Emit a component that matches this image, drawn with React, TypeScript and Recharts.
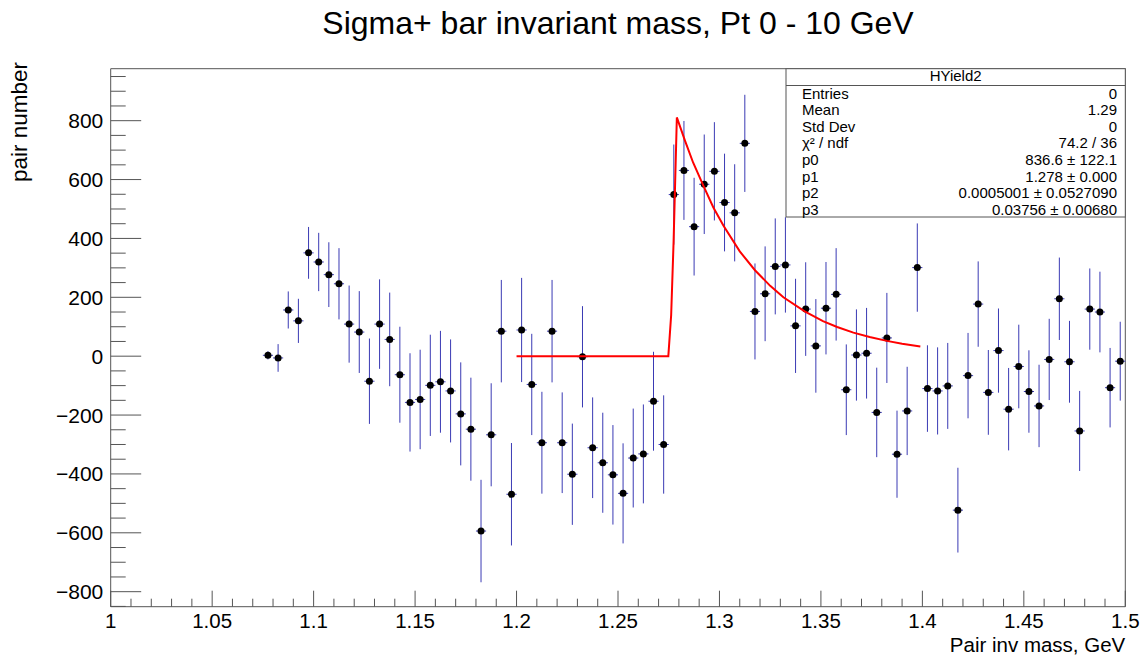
import React from "react";
import { ComposedChart, Scatter, XAxis, YAxis, ErrorBar, ReferenceLine } from "recharts";

// histogram bin centres (GeV), 0.005 wide bins
const binCenters = [
  1.0775, 1.0825, 1.0875, 1.0925, 1.0975,
  1.1025, 1.1075, 1.1125, 1.1175, 1.1225, 1.1275, 1.1325, 1.1375, 1.1425, 1.1475,
  1.1525, 1.1575, 1.1625, 1.1675, 1.1725, 1.1775, 1.1825, 1.1875, 1.1925, 1.1975,
  1.2025, 1.2075, 1.2125, 1.2175, 1.2225, 1.2275, 1.2325, 1.2375, 1.2425, 1.2475,
  1.2525, 1.2575, 1.2625, 1.2675, 1.2725, 1.2775, 1.2825, 1.2875, 1.2925, 1.2975,
  1.3025, 1.3075, 1.3125, 1.3175, 1.3225, 1.3275, 1.3325, 1.3375, 1.3425, 1.3475,
  1.3525, 1.3575, 1.3625, 1.3675, 1.3725, 1.3775, 1.3825, 1.3875, 1.3925, 1.3975,
  1.4025, 1.4075, 1.4125, 1.4175, 1.4225, 1.4275, 1.4325, 1.4375, 1.4425, 1.4475,
  1.4525, 1.4575, 1.4625, 1.4675, 1.4725, 1.4775, 1.4825, 1.4875, 1.4925, 1.4975,
];

const pairCounts = [
  3, -6, 157, 120, 351, 320, 277, 246, 109, 82,
  -85, 109, 57, -63, -157, -147, -99, -87, -118, -196,
  -248, -594, -267, 85, -469, 89, -96, -294, 85, -294,
  -401, -2, -311, -362, -403, -466, -346, -332, -153, -300,
  549, 631, 440, 584, 628, 522, 487, 723, 152, 212,
  305, 310, 103, 160, 35, 163, 210, -114, 4, 10,
  -191, 62, -333, -186, 301, -110, -118, -101, -523, -66,
  177, -123, 19, -180, -35, -120, -169, -11, 195, -19,
  -254, 160, 150, -107, -17,
];

const pairErrors = [
  14, 47, 63, 75, 88, 99, 110, 121, 131, 139,
  145, 152, 159, 163, 167, 169, 172, 173, 175, 175,
  175, 174, 175, 174, 174, 177, 172, 173, 174, 171,
  172, 172, 171, 170, 169, 170, 168, 168, 168, 167,
  170, 168, 166, 169, 167, 166, 165, 165, 163, 161,
  163, 162, 160, 159, 159, 157, 157, 154, 155, 154,
  152, 153, 148, 150, 150, 147, 148, 146, 144, 145,
  145, 144, 143, 140, 142, 140, 140, 138, 140, 139,
  136, 138, 137, 135, 134,
];

const halfBin = 0.0025;

// fit function as drawn
const fitMass = [1.2, 1.2748, 1.2762, 1.2774, 1.279, 1.283, 1.287, 1.292, 1.297, 1.302, 1.31, 1.3175, 1.325, 1.3315, 1.342, 1.351, 1.358, 1.366, 1.374, 1.3825, 1.39, 1.399];
const fitValues = [0, 0, 140, 390, 811, 732, 658, 580, 505, 443, 356, 292, 239, 200, 152, 119, 99, 80, 65, 52, 42, 33];

const xMajorTicks = [1, 1.05, 1.1, 1.15, 1.2, 1.25, 1.3, 1.35, 1.4, 1.45, 1.5];
const xTickLabels = ["1", "1.05", "1.1", "1.15", "1.2", "1.25", "1.3", "1.35", "1.4", "1.45", "1.5"];
const yMajorTicks = [-800, -600, -400, -200, 0, 200, 400, 600, 800];
const yTickLabels = ["\u2212800", "\u2212600", "\u2212400", "\u2212200", "0", "200", "400", "600", "800"];

const statNames = ["Entries", "Mean", "Std Dev", "\u03c7\u00b2 / ndf", "p0", "p1", "p2", "p3"];
const statValues = ["0", "1.29", "0", "74.2 / 36", "836.6 \u00b1 122.1", "1.278 \u00b1 0.000", "0.0005001 \u00b1 0.0527090", "0.03756 \u00b1 0.00680"];

const Y_MIN = -851;
const Y_MAX = 976.6;
const FONT = "'Liberation Sans', Arial, Helvetica, sans-serif";
const AXIS = "#555";

// minor ticks: 4 subdivisions between x majors, every 50 on y
const xTicks: number[] = [];
for (let i = 0; i < xMajorTicks.length - 1; i++) {
  const step = (xMajorTicks[i + 1] - xMajorTicks[i]) / 5;
  for (let k = 0; k < 5; k++) xTicks.push(Math.round((xMajorTicks[i] + k * step) * 10000) / 10000);
}
xTicks.push(xMajorTicks[xMajorTicks.length - 1]);
const yTicks: number[] = [];
for (let v = -850; v <= 950; v += 50) yTicks.push(v);

const histPoints = binCenters.map((x, i) => ({ x, y: pairCounts[i], ey: pairErrors[i], ex: halfBin }));
const fitPoints = fitMass.map((x, i) => ({ x, y: fitValues[i] }));

const XTick = (props: any) => {
  const { x, y, payload } = props;
  const idx = xMajorTicks.findIndex((t) => Math.abs(t - payload.value) < 1e-6);
  const major = idx >= 0;
  return (
    <g>
      <line x1={x} x2={x} y1={y} y2={y - (major ? 16 : 8)} stroke={AXIS} />
      {major && (
        <text x={x} y={y + 21.5} textAnchor="middle" fontSize={20.5} fontFamily={FONT} fill="#000">
          {xTickLabels[idx]}
        </text>
      )}
    </g>
  );
};

const YTick = (props: any) => {
  const { x, y, payload } = props;
  const idx = yMajorTicks.indexOf(payload.value);
  const major = idx >= 0;
  return (
    <g>
      <line x1={x} x2={x + (major ? 30.5 : 15)} y1={y} y2={y} stroke={AXIS} />
      {major && (
        <text x={x - 7.4} y={y + 7.5} textAnchor="end" fontSize={21} fontFamily={FONT} fill="#000">
          {yTickLabels[idx]}
        </text>
      )}
    </g>
  );
};

const Marker = (props: any) => <circle cx={props.cx} cy={props.cy} r={3.5} fill="#000" />;

function StatsBox() {
  const left = 786;
  const top = 68.7;
  const right = 1125.3;
  const bottom = 217;
  return (
    <g fontFamily={FONT} fontSize={15} fill="#000">
      <rect x={left} y={top} width={right - left} height={bottom - top} fill="#fff" stroke={AXIS} />
      <line x1={left} x2={right} y1={85.5} y2={85.5} stroke={AXIS} />
      <text x={(left + right) / 2} y={81} textAnchor="middle">HYield2</text>
      {statNames.map((name, i) => (
        <g key={name}>
          <text x={802} y={98.5 + i * 16.6}>{name}</text>
          <text x={1117} y={98.5 + i * 16.6} textAnchor="end">{statValues[i]}</text>
        </g>
      ))}
    </g>
  );
}

export default function App() {
  return (
    <div style={{ position: "absolute", left: 0, top: 0, width: 1144, height: 657, background: "#fff" }}>
      <ComposedChart width={1144} height={657} margin={{ top: 68.7, right: 18.7, bottom: 10.3, left: 50.7 }}>
        <XAxis
          type="number"
          dataKey="x"
          domain={[1, 1.5]}
          ticks={xTicks}
          interval={0}
          height={40}
          tickSize={0}
          tickMargin={0}
          tickLine={false}
          tick={<XTick />}
          axisLine={{ stroke: AXIS }}
          allowDataOverflow
        />
        <YAxis
          type="number"
          dataKey="y"
          domain={[Y_MIN, Y_MAX]}
          ticks={yTicks}
          interval={0}
          width={60}
          tickSize={0}
          tickMargin={0}
          tickLine={false}
          tick={<YTick />}
          axisLine={{ stroke: AXIS }}
          allowDataOverflow
        />
        <ReferenceLine y={Y_MAX} stroke={AXIS} />
        <ReferenceLine x={1.5} stroke={AXIS} />
        <Scatter data={histPoints} isAnimationActive={false} shape={<Marker />}>
          <ErrorBar dataKey="ey" direction="y" width={0} stroke="#3a3ab4" strokeWidth={1} isAnimationActive={false} />
          <ErrorBar dataKey="ex" direction="x" width={0} stroke="#3a3ab4" strokeWidth={1} isAnimationActive={false} />
        </Scatter>
        <Scatter
          data={fitPoints}
          isAnimationActive={false}
          line={{ stroke: "#ff0000", strokeWidth: 2 }}
          shape={() => <g />}
        />
      </ComposedChart>
      <svg width={1144} height={657} style={{ position: "absolute", left: 0, top: 0, pointerEvents: "none" }}>
        <text x={618} y={34} textAnchor="middle" fontSize={32} fontFamily={FONT} fill="#000">
          Sigma+ bar invariant mass, Pt 0 - 10 GeV
        </text>
        <text x={1125.3} y={651.5} textAnchor="end" fontSize={20.5} fontFamily={FONT} fill="#000">
          Pair inv mass, GeV
        </text>
        <text transform="translate(27, 62) rotate(-90)" textAnchor="end" fontSize={22.5} fontFamily={FONT} fill="#000">
          pair number
        </text>
        <StatsBox />
      </svg>
    </div>
  );
}
